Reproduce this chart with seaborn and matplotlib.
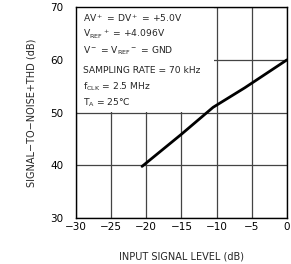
import numpy as np
import pandas as pd
import matplotlib
matplotlib.use("Agg")
import matplotlib.pyplot as plt
from matplotlib.patches import Rectangle
import seaborn as sns

# dados
nivel_entrada = [-20.6, -15.0, -10.5, -6.0, 0.0]
snr_thd = [39.8, 45.9, 51.0, 54.7, 60.0]
x_ticks = [-30, -25, -20, -15, -10, -5, 0]
y_ticks = [30, 40, 50, 60, 70]
condicoes = [
    r"AV$^+$ = DV$^+$ = +5.0V",
    r"V$_{\rm REF}$$^+$ = +4.096V",
    r"V$^-$ = V$_{\rm REF}$$^-$ = GND",
    "SAMPLING RATE = 70 kHz",
    r"f$_{\rm CLK}$ = 2.5 MHz",
    r"T$_{\rm A}$ = 25°C",
]

sns.set_style("white")
plt.rcParams['font.family'] = ['DejaVu Sans']
plt.rcParams['mathtext.default'] = 'regular'

df = pd.DataFrame({'x': nivel_entrada, 'y': snr_thd})

fig = plt.figure(figsize=(2.91, 2.64), dpi=100)
ax = fig.add_axes([0.261, 0.174, 0.725, 0.799])

sns.lineplot(data=df, x='x', y='y', ax=ax, color='black', linewidth=2.0, zorder=5)

ax.set_xlim(-30, 0)
ax.set_ylim(30, 70)
ax.set_xticks(x_ticks)
ax.set_yticks(y_ticks)
ax.set_xticklabels([str(t).replace('-', '\u2212') for t in x_ticks])
ax.grid(True, color='#444444', linewidth=0.9)
ax.set_axisbelow(True)
ax.tick_params(length=0, labelsize=7.5, colors='black')
ax.tick_params(axis='y', pad=9)
ax.tick_params(axis='x', pad=3)
for s in ax.spines.values():
    s.set_color('black')
    s.set_linewidth(1.0)

# caixa branca cobrindo a grade atrás do texto
ax.add_patch(Rectangle((-30, 50.15), 19.6, 19.85, facecolor='white',
                       edgecolor='none', zorder=2))

y0 = 67.9
for i, linha in enumerate(condicoes):
    yy = y0 - i * 3.05 - (0.8 if i >= 3 else 0)
    ax.text(-29.0, yy, linha, fontsize=6.6, va='center', ha='left', zorder=3)

ax.set_xlabel('INPUT SIGNAL LEVEL (dB)', fontsize=7, labelpad=14)
ax.set_ylabel('SIGNAL\u2212TO\u2212NOISE+THD (dB)', fontsize=7, labelpad=10)

fig.savefig('out.png', dpi=100)
